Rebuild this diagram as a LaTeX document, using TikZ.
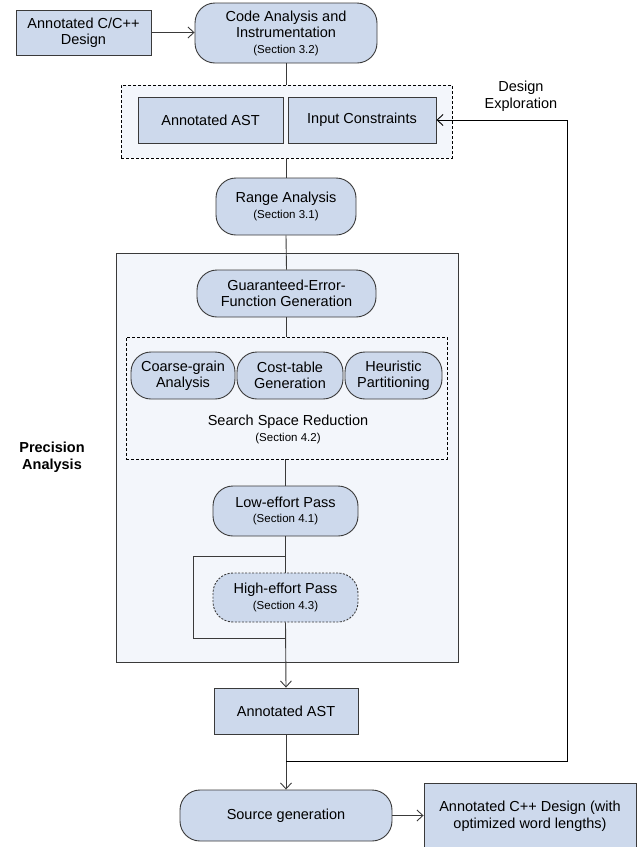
\documentclass[tikz,border=0pt]{standalone}
\usepackage{fontspec}
\setmainfont{Liberation Sans}
\usetikzlibrary{arrows.meta}
\definecolor{nodefill}{HTML}{CDD9EC}
\definecolor{panefill}{HTML}{F3F6FB}
\definecolor{edgegray}{HTML}{3A3A3A}
\tikzset{
  base/.style={draw=edgegray, line width=0.9pt, fill=nodefill, align=center, inner sep=2pt,
    font=\fontsize{14.5}{16.5}\selectfont},
  boxnode/.style={base, rectangle},
  roundnode/.style={base, rounded corners=20pt},
  pane/.style={draw=edgegray, line width=0.9pt, fill=panefill},
  dashpane/.style={draw=black, line width=0.8pt, dash pattern=on 3pt off 2pt, fill=panefill},
  conn/.style={draw=edgegray, line width=0.9pt},
  arr/.style={conn, -{Straight Barb[length=6pt,width=11pt]}},
}
\newcommand{\secline}[1]{\\[-1pt]{\fontsize{11.5}{13}\selectfont #1}}
\begin{document}
\begin{tikzpicture}[x=1pt,y=-1pt]
\useasboundingbox (0,0) rectangle (637,847);
% containers
\node[pane, minimum width=342pt, minimum height=409pt, inner sep=0pt] (prec) at (287,457.5) {};
\node[dashpane, minimum width=331pt, minimum height=73pt, inner sep=0pt] (inbox) at (286.5,121.5) {};
\node[dashpane, minimum width=321pt, minimum height=122pt, inner sep=0pt] (ssr) at (286.5,398) {};

% nodes
\node[boxnode, minimum width=135pt, minimum height=45pt] (cc) at (83.5,32.5) {Annotated C/C++\\Design};
\node[roundnode, minimum width=182pt, minimum height=60pt] (code) at (286,33) {Code Analysis and\\Instrumentation\secline{(Section 3.2)}};
\node[boxnode, minimum width=145pt, minimum height=46pt] (ast1) at (210.5,120) {Annotated AST};
\node[boxnode, minimum width=148pt, minimum height=46pt] (ic) at (362,120) {Input Constraints};
\node[roundnode, minimum width=140pt, minimum height=57pt] (range) at (286,206.5) {Range Analysis\secline{(Section 3.1)}};
\node[roundnode, minimum width=179pt, minimum height=47pt] (gef) at (286.5,293.5) {Guaranteed-Error-\\Function Generation};
\node[roundnode, minimum width=104pt, minimum height=47pt, inner sep=1pt] (coarse) at (183,375.5) {Coarse-grain\\Analysis};
\node[roundnode, minimum width=106pt, minimum height=47pt, inner sep=1pt] (cost) at (290,375.5) {Cost-table\\Generation};
\node[roundnode, minimum width=97pt, minimum height=47pt, inner sep=1pt] (heur) at (393.5,375.5) {Heuristic\\Partitioning};
\node[align=center, font=\fontsize{14.5}{17}\selectfont] (ssrlabel) at (288,429) {Search Space Reduction\secline{(Section 4.2)}};
\node[roundnode, minimum width=145pt, minimum height=50pt] (low) at (285.5,511) {Low-effort Pass\secline{(Section 4.1)}};
\node[roundnode, minimum width=145pt, minimum height=49pt, dash pattern=on 2pt off 1.5pt] (high) at (285.5,597.5) {High-effort Pass\secline{(Section 4.3)}};
\node[boxnode, minimum width=144pt, minimum height=46pt] (ast2) at (286,711) {Annotated AST};
\node[roundnode, minimum width=212pt, minimum height=51pt] (src) at (286,815.5) {Source generation};
\node[boxnode, minimum width=212pt, minimum height=66pt] (out) at (530,816) {Annotated C++ Design (with\\optimized word lengths)};
\node[align=center, font=\bfseries\fontsize{14.5}{16.5}\selectfont] (preclabel) at (52,457) {Precision\\Analysis};
\node[align=center, font=\fontsize{14.5}{16.5}\selectfont] (delabel) at (521,96) {Design\\Exploration};

% connector points
\coordinate (ls) at (286,556);
\coordinate (ll) at (193,556);
\coordinate (lb) at (193,638);
\coordinate (le) at (286,638);
\coordinate (rb) at (286,761);
\coordinate (rr) at (567,761);
\coordinate (rt) at (567,120);

% connectors
\draw[arr] (cc.east) -- (cc.east -| code.west);
\draw[conn] (code.south) -- (code.south |- inbox.north);
\draw[conn] (inbox.south -| range.north) -- (range.north);
\draw[conn] (range.south) -- (gef.north);
\draw[conn] (gef.south) -- (gef.south |- ssr.north);
\draw[conn] (ssr.south -| low.north) -- (low.north);
\draw[conn] (low.south) -- (high.north);
\draw[conn] (ls) -- (ll) -- (lb) -- (le);
\draw[arr] (high.south) -- (ast2.north);
\draw[arr] (ast2.south) -- (src.north);
\draw[conn, draw=black] (rb) -- (rr) -- (rt);
\draw[arr, draw=black] (rt) -- (ic.east);
\draw[arr] (src.east) -- (src.east -| out.west);
\end{tikzpicture}
\end{document}
